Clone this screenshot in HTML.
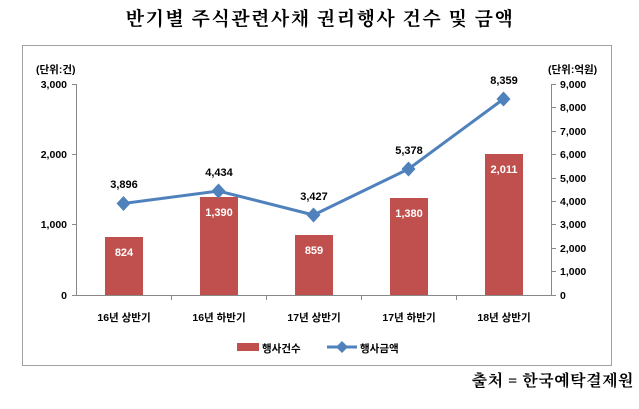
<!DOCTYPE html>
<html><head><meta charset="utf-8"><style>
body{margin:0;background:#fff;width:639px;height:404px;overflow:hidden}
</style></head><body>
<svg width="639" height="404" xmlns="http://www.w3.org/2000/svg" font-family="'Liberation Sans','Noto Sans CJK KR',sans-serif">
<text x="320" y="25" text-anchor="middle" font-family="'Liberation Serif','Noto Serif CJK SC',serif" font-weight="bold" font-size="19" letter-spacing="1.5">반기별 주식관련사채 권리행사 건수 및 금액</text>
<rect x="22.5" y="45.5" width="589" height="320" fill="#fff" stroke="#a0a0a0"/>
<g font-size="10.5" font-weight="bold" fill="#000">
<text x="36" y="73">(단위:건)</text>
<text x="548" y="73">(단위:억원)</text>
<text x="67" y="88" text-anchor="end">3,000</text>
<text x="67" y="158" text-anchor="end">2,000</text>
<text x="67" y="228" text-anchor="end">1,000</text>
<text x="67" y="299" text-anchor="end">0</text>
<g text-anchor="start">
<text x="560" y="88">9,000</text><text x="560" y="111">8,000</text><text x="560" y="135">7,000</text>
<text x="560" y="158">6,000</text><text x="560" y="182">5,000</text><text x="560" y="205">4,000</text>
<text x="560" y="228">3,000</text><text x="560" y="252">2,000</text><text x="560" y="275">1,000</text>
<text x="560" y="299">0</text></g>
</g>
<g stroke="#888" stroke-width="1">
<line x1="76.5" y1="84" x2="76.5" y2="295"/>
<line x1="72" y1="84.5" x2="76" y2="84.5"/><line x1="72" y1="154.5" x2="76" y2="154.5"/><line x1="72" y1="224.5" x2="76" y2="224.5"/><line x1="72" y1="295.5" x2="76" y2="295.5"/>
<line x1="76" y1="295.5" x2="551" y2="295.5"/>
<line x1="551.5" y1="84" x2="551.5" y2="295"/>
<line x1="171.5" y1="295" x2="171.5" y2="300"/><line x1="266.5" y1="295" x2="266.5" y2="300"/><line x1="361.5" y1="295" x2="361.5" y2="300"/><line x1="456.5" y1="295" x2="456.5" y2="300"/>
<g>
<line x1="551" y1="84.5" x2="556" y2="84.5"/><line x1="551" y1="107.5" x2="556" y2="107.5"/><line x1="551" y1="131.5" x2="556" y2="131.5"/><line x1="551" y1="154.5" x2="556" y2="154.5"/><line x1="551" y1="178.5" x2="556" y2="178.5"/><line x1="551" y1="201.5" x2="556" y2="201.5"/><line x1="551" y1="224.5" x2="556" y2="224.5"/><line x1="551" y1="248.5" x2="556" y2="248.5"/><line x1="551" y1="271.5" x2="556" y2="271.5"/><line x1="551" y1="295.5" x2="556" y2="295.5"/>
</g></g>
<g fill="#c0504d">
<rect x="105" y="237" width="38" height="58"/>
<rect x="200" y="197" width="38" height="98"/>
<rect x="295" y="235" width="38" height="60"/>
<rect x="390" y="198" width="38" height="97"/>
<rect x="485" y="154" width="38" height="141"/>
</g>
<g font-size="11" font-weight="bold" fill="#fff" text-anchor="middle">
<text x="124" y="256">824</text><text x="219" y="216">1,390</text><text x="314" y="254">859</text><text x="409" y="217">1,380</text><text x="504" y="173">2,011</text>
</g>
<polyline points="123.5,203.5 218.5,191 313.5,215 408.5,169 503.5,99" fill="none" stroke="#4f81bd" stroke-width="3"/>
<g fill="#4f81bd">
<path d="M123.5 196l7 7.5-7 7.5-7-7.5z"/><path d="M218.5 183.5l7 7.5-7 7.5-7-7.5z"/><path d="M313.5 207.5l7 7.5-7 7.5-7-7.5z"/><path d="M408.5 161.5l7 7.5-7 7.5-7-7.5z"/><path d="M503.5 91.5l7 7.5-7 7.5-7-7.5z"/>
</g>
<g font-size="11" font-weight="bold" text-anchor="middle">
<text x="124" y="188">3,896</text><text x="219" y="176">4,434</text><text x="314" y="200">3,427</text><text x="409" y="154">5,378</text><text x="504" y="84">8,359</text>
</g>
<g font-size="10.5" font-weight="bold" text-anchor="middle">
<text x="124" y="321">16년 상반기</text><text x="219" y="321">16년 하반기</text><text x="314" y="321">17년 상반기</text><text x="409" y="321">17년 하반기</text><text x="504" y="321">18년 상반기</text>
</g>
<rect x="237" y="343" width="22" height="8" fill="#c0504d"/>
<text x="262" y="352" font-size="10.5" font-weight="bold">행사건수</text>
<line x1="327" y1="347" x2="357" y2="347" stroke="#4f81bd" stroke-width="3"/>
<path d="M342 341l6 6-6 6-6-6z" fill="#4f81bd"/>
<text x="360" y="352" font-size="10.5" font-weight="bold">행사금액</text>
<text x="634" y="386" text-anchor="end" font-family="'Liberation Serif','Noto Serif CJK SC',serif" font-weight="bold" font-size="16" letter-spacing="0.5">출처 = 한국예탁결제원</text>
</svg>
</body></html>
